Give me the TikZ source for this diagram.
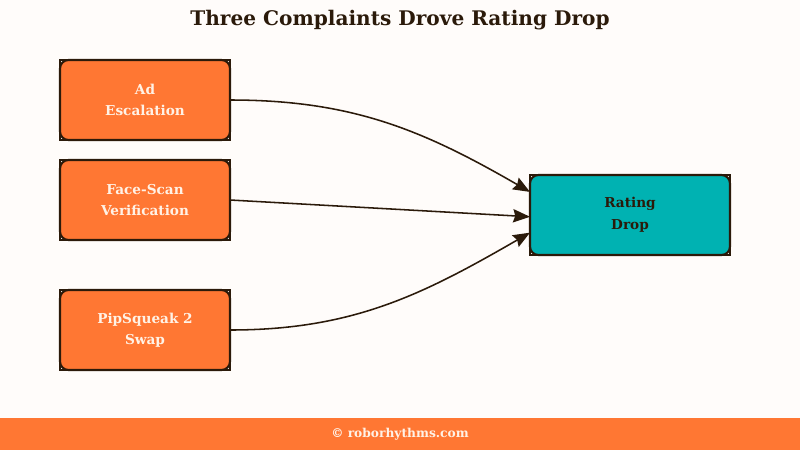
\documentclass[tikz,border=0pt]{standalone}
\usepackage{fontspec}
\setmainfont{DejaVu Serif}
\usetikzlibrary{arrows.meta,backgrounds}

\definecolor{pagebg}{HTML}{FFFCFA}
\definecolor{causeorange}{HTML}{FF7733}
\definecolor{effectteal}{HTML}{00B2B2}
\definecolor{edgebrown}{HTML}{2B1A0A}
\definecolor{lighttext}{HTML}{FFF2E6}

\begin{document}
\begin{tikzpicture}[
    cause/.style={rectangle, draw=edgebrown, line width=1.5pt, outer sep=0pt, rounded corners=6pt, minimum width=4.25cm, minimum height=2cm, align=center, fill=causeorange, text=lighttext, font=\bfseries\fontsize{9.7}{15}\selectfont},
    effect/.style={rectangle, draw=edgebrown, line width=1.5pt, outer sep=0pt, rounded corners=6pt, minimum width=5cm, minimum height=2cm, align=center, fill=effectteal, text=edgebrown, font=\bfseries\fontsize{9.7}{15.5}\selectfont},
    cornerline/.style={draw=edgebrown, line width=0.9pt},
    arrow/.style={-{Stealth[length=12pt, width=9.5pt, inset=1.5pt]}, line width=1.1pt, draw=edgebrown}
]

% Main components
\node[cause] (ad) at (3.625,-2.5) {Ad\\Escalation};
\node[cause] (face) at (3.625,-5.0) {Face-Scan\\Verification};
\node[cause] (pip) at (3.625,-8.25) {PipSqueak 2\\Swap};
\node[effect] (drop) at (15.75,-5.375) {Rating\\Drop};

% Canvas and square corner marks
\begin{scope}[on background layer]
    \fill[pagebg] (0,0) rectangle (20,-11.25);
    \foreach \n in {ad,face,pip,drop}
        \draw[cornerline] (\n.south west) rectangle (\n.north east);
\end{scope}
\useasboundingbox (0,0) rectangle (20,-11.25);

% Title
\node[font=\bfseries\fontsize{14.3}{16}\selectfont, text=edgebrown] (title) at (10,-0.5) {Three Complaints Drove Rating Drop};

% Arrows
\draw[arrow] (ad.east) to[out=0, in=150] (drop.167.6);
\draw[arrow] (face.east) -- (drop.181);
\draw[arrow] (pip.east) to[out=0, in=210] (drop.190.2);

% Footer
\fill[causeorange] (0,-10.45) rectangle (20,-11.25);
\node[font=\bfseries\fontsize{8.7}{10}\selectfont, text=lighttext] (footer) at (10,-10.85) {© roborhythms.com};

\end{tikzpicture}
\end{document}
